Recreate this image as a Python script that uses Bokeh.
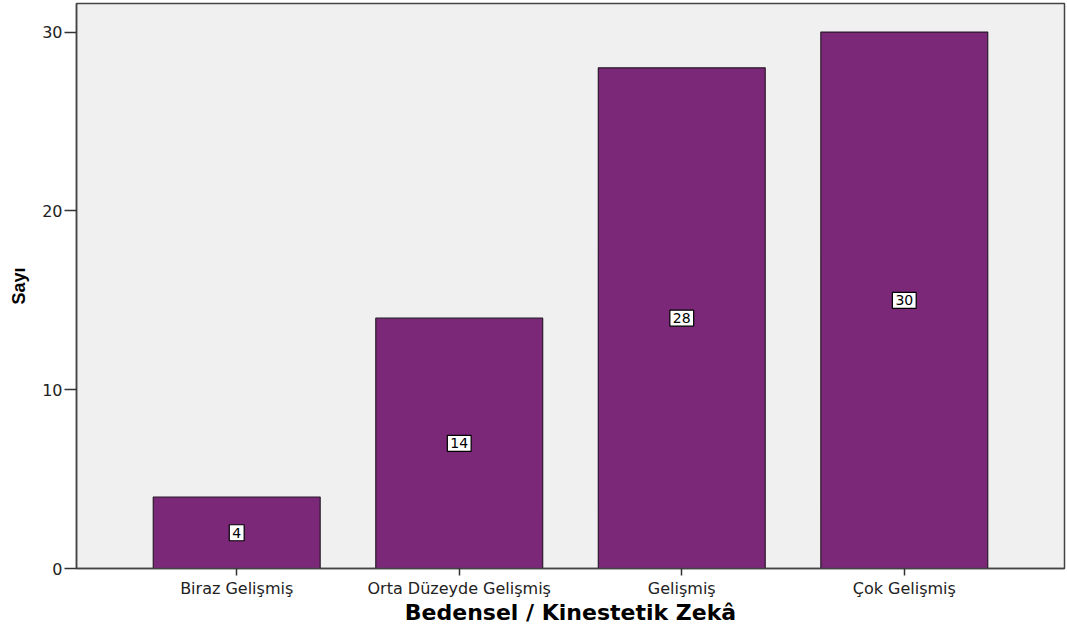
from bokeh.plotting import figure
from bokeh.models import ColumnDataSource, Label, FactorRange, Range1d, FixedTicker
from bokeh.embed import file_html
from bokeh.resources import INLINE

categories = ["Biraz Gelişmiş", "Orta Düzeyde Gelişmiş", "Gelişmiş", "Çok Gelişmiş"]
counts = [4, 14, 28, 30]
y_ticks = [0, 10, 20, 30]

src = ColumnDataSource(dict(cat=categories, cnt=counts))

p = figure(width=1067, height=631, output_backend="svg", toolbar_location=None,
           x_range=FactorRange(factors=categories, range_padding=0.11),
           y_range=Range1d(0, 31.6),
           min_border_left=76, min_border_right=3, min_border_top=3, min_border_bottom=63)
p.background_fill_color = "#F0F0F0"
p.border_fill_color = "white"
p.outline_line_color = "#444444"
p.outline_line_width = 1.5
p.grid.visible = False

p.vbar(x="cat", top="cnt", width=0.75, source=src,
       fill_color="#7B2879", line_color="#2a1a2a", line_width=1.2)

for i, c in enumerate(counts):
    p.add_layout(Label(x=i + 0.5, y=c / 2, text=str(c),
                       text_align="center", text_baseline="middle",
                       text_font="DejaVu Sans", text_font_size="14px", text_color="black",
                       background_fill_color="white", border_line_color="black",
                       border_line_width=1.2, padding=3))

for ax in (p.xaxis[0], p.yaxis[0]):
    ax.axis_line_color = "#444444"
    ax.axis_line_width = 1.5
    ax.major_tick_line_color = "#333333"
    ax.major_tick_line_width = 1.5
    ax.minor_tick_line_color = None
    ax.major_label_text_font = "DejaVu Sans"
    ax.major_label_text_font_size = "16px"
    ax.major_label_text_color = "#222222"
    ax.axis_label_text_color = "black"
    ax.axis_label_text_font_style = "bold"

p.yaxis[0].ticker = FixedTicker(ticks=y_ticks)
p.yaxis[0].major_tick_out = 12
p.yaxis[0].major_tick_in = 0
p.yaxis[0].major_label_standoff = 2
p.yaxis[0].axis_label = "Sayı"
p.yaxis[0].axis_label_text_font = "Liberation Sans"
p.yaxis[0].axis_label_text_font_size = "18px"
p.yaxis[0].axis_label_standoff = 10

p.xaxis[0].major_tick_out = 7
p.xaxis[0].major_tick_in = 0
p.xaxis[0].axis_label = "Bedensel / Kinestetik Zekâ"
p.xaxis[0].axis_label_text_font = "DejaVu Sans"
p.xaxis[0].axis_label_text_font_size = "22px"
p.xaxis[0].axis_label_standoff = -1
p.xaxis[0].major_label_standoff = 3

open("out.html", "w").write(file_html(p, INLINE))
